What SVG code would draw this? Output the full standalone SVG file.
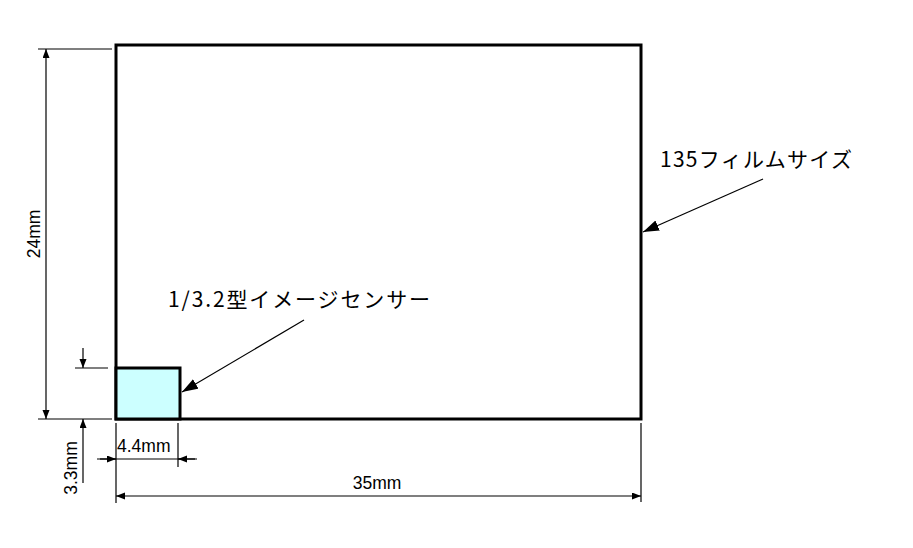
<svg xmlns="http://www.w3.org/2000/svg" width="913" height="548" viewBox="0 0 913 548">
<style>
.thin{stroke:#000;stroke-width:1.2;fill:none}
.thick{stroke:#000;stroke-width:3;}
.dim{font-family:"Liberation Sans",Arial,sans-serif;font-size:17.5px;fill:#000}
.jp{font-family:"Noto Sans CJK JP","DejaVu Sans",sans-serif;font-size:21px;fill:#000}
</style>
<defs>
<marker id="sa" markerUnits="userSpaceOnUse" markerWidth="10" markerHeight="8" refX="9" refY="3.5" orient="auto-start-reverse"><path d="M0,0 L9,3.5 L0,7 z" fill="#000"/></marker>
<marker id="la" markerUnits="userSpaceOnUse" markerWidth="17" markerHeight="12" refX="16" refY="5.5" orient="auto"><path d="M0,0 L16,5.5 L0,11 z" fill="#000"/></marker>
</defs>
<rect width="913" height="548" fill="#fff"/>
<g id="film">
<rect class="thick" x="116" y="45" width="525" height="374" fill="#fff"/>
</g>
<g id="sensor">
<rect class="thick" x="116" y="368" width="64" height="51" fill="#ccffff"/>
</g>
<g id="connectors">
<line class="thin" x1="38" y1="49" x2="112" y2="49"/>
<line class="thin" x1="38" y1="419" x2="112" y2="419"/>
<line class="thin" x1="75" y1="368" x2="108" y2="368"/>
<line class="thin" x1="116" y1="423" x2="116" y2="503"/>
<line class="thin" x1="178" y1="423" x2="178" y2="467"/>
<line class="thin" x1="641" y1="423" x2="641" y2="502"/>
<line class="thin" x1="46" y1="49" x2="46" y2="419" marker-start="url(#sa)" marker-end="url(#sa)"/>
<line class="thin" x1="83" y1="348" x2="83" y2="368" marker-end="url(#sa)"/>
<line class="thin" x1="83" y1="483" x2="83" y2="419" marker-end="url(#sa)"/>
<line class="thin" x1="97" y1="459" x2="197" y2="459"/>
<line class="thin" x1="100" y1="459" x2="116" y2="459" marker-end="url(#sa)"/>
<line class="thin" x1="195" y1="459" x2="178" y2="459" marker-end="url(#sa)"/>
<line class="thin" x1="116" y1="496" x2="641" y2="496" marker-start="url(#sa)" marker-end="url(#sa)"/>
<line class="thin" x1="763" y1="179" x2="643" y2="232" marker-end="url(#la)"/>
<line class="thin" x1="304" y1="320" x2="182" y2="392" marker-end="url(#la)"/>
</g>
<g id="labels">
<text class="dim" transform="translate(40,234) rotate(-90)" text-anchor="middle">24mm</text>
<text class="dim" transform="translate(77,468) rotate(-90)" text-anchor="middle">3.3mm</text>
<text class="dim" x="117" y="452">4.4mm</text>
<text class="dim" x="377" y="489" text-anchor="middle">35mm</text>
<text class="jp" x="660" y="167" textLength="192" lengthAdjust="spacing">135フィルムサイズ</text>
<text class="jp" x="168" y="307" textLength="262" lengthAdjust="spacing">1/3.2型イメージセンサー</text>
</g>
</svg>
